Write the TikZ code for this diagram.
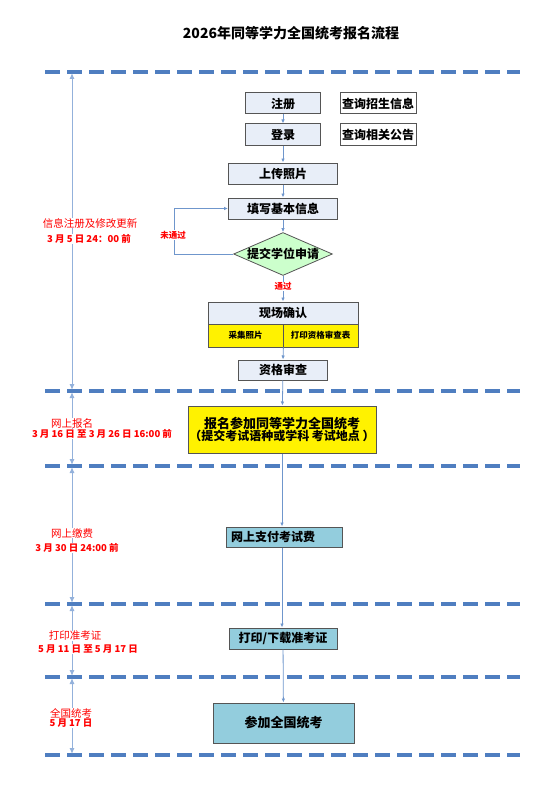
\documentclass[tikz,border=0pt]{standalone}
\usepackage{fontspec}
\setmainfont{Noto Sans CJK SC}
\usetikzlibrary{shapes.geometric,arrows.meta}
\definecolor{boxfill}{HTML}{E8EEF8}
\definecolor{bordergray}{HTML}{555555}
\definecolor{tealfill}{HTML}{93CDDD}
\definecolor{diafill}{HTML}{CCFFCC}
\definecolor{dashblue}{HTML}{4F7EC0}
\definecolor{connblue}{HTML}{6F96CC}
\definecolor{leftblue}{HTML}{93B1DB}
\definecolor{labred}{HTML}{FF0000}
\begin{document}
\begin{tikzpicture}[x=1pt,y=-1pt,
  box/.style={draw=bordergray, line width=1pt, fill=boxfill, inner sep=0pt, minimum height=21pt, font=\fontsize{12}{14}\selectfont\bfseries},
  wbox/.style={box, fill=white},
  ybox/.style={draw=bordergray, line width=0.8pt, fill=yellow, inner sep=0pt, font=\fontsize{8.5}{10}\selectfont\bfseries},
  tbox/.style={box, fill=tealfill},
  dia/.style={diamond, draw=bordergray, line width=0.8pt, fill=diafill, inner sep=0pt, shape aspect=2.3, minimum width=96pt, minimum height=42pt, font=\fontsize{12}{14}\selectfont\bfseries},
  conn/.style={draw=connblue, line width=0.8pt, -{Latex[length=4pt,width=3.5pt]}},
  larrow/.style={draw=leftblue, line width=1pt, {Latex[length=6pt,width=5pt]}-{Latex[length=6pt,width=5pt]}, shorten <=1pt, shorten >=1pt},
  dashln/.style={draw=dashblue, line width=3.2pt, dash pattern=on 15pt off 7pt},
  redlab/.style={text=labred, fill=white, inner sep=0.5pt, font=\fontsize{10.5}{12}\selectfont},
  reddate/.style={text=labred, fill=white, inner sep=0.5pt, font=\fontsize{9.5}{11}\selectfont\bfseries},
  smallred/.style={text=labred, fill=white, inner sep=0.5pt, font=\fontsize{8.5}{10}\selectfont\bfseries}
]
\useasboundingbox (0,0) rectangle (550,789);

% title
\node[font=\fontsize{14}{17}\selectfont\bfseries] (title) at (291,33) {2026年同等学力全国统考报名流程};

% dashed separators
\foreach \yy/\nm in {72/1,391/2,466/3,604/4,677/5,755/6}{
  \coordinate (dA\nm) at (45,\yy);
  \coordinate (dB\nm) at (520,\yy);
  \coordinate (v\nm) at (72,\yy);
}
\foreach \nm in {1,...,6}{ \draw[dashln] (dA\nm) -- (dB\nm); }

% left arrows
\draw[larrow] (v1) -- (v2);
\draw[larrow] (v2) -- (v3);
\draw[larrow] (v3) -- (v4);
\draw[larrow] (v4) -- (v5);
\draw[larrow] (v5) -- (v6);

% left labels
\node[redlab] (l1a) at (90,223) {信息注册及修改更新};
\node[reddate] (l1b) at (89,239) {3 月 5 日 24：00 前};
\node[redlab] (l2a) at (72,423) {网上报名};
\node[reddate] (l2b) at (102,434) {3 月 16 日 至 3 月 26 日 16:00 前};
\node[redlab] (l3a) at (72,533) {网上缴费};
\node[reddate] (l3b) at (77,548) {3 月 30 日 24:00 前};
\node[redlab] (l4a) at (75,636) {打印准考证};
\node[reddate] (l4b) at (88,649) {5 月 11 日 至 5 月 17 日};
\node[redlab] (l5a) at (71,713) {全国统考};
\node[reddate] (l5b) at (71,723) {5 月 17 日};

% flow boxes
\node[box, minimum width=75pt] (zc) at (283,103.5) {注册};
\node[wbox, minimum width=76pt] (cx1) at (378,103.5) {查询招生信息};
\node[box, minimum width=75pt] (dl) at (283,134.5) {登录};
\node[wbox, minimum width=76pt] (cx2) at (378,134.5) {查询相关公告};
\node[box, minimum width=109pt] (sc) at (283,173.5) {上传照片};
\node[box, minimum width=109pt] (tx) at (283,208.5) {填写基本信息};
\node[dia] (tj) at (283,254) {提交学位申请};
\node[box, minimum width=150pt, minimum height=22pt] (xc) at (283,313) {现场确认};
\node[ybox, minimum width=75pt, minimum height=23pt] (cj) at (245.5,335.5) {采集照片};
\node[ybox, minimum width=75pt, minimum height=23pt] (dy) at (320.5,335.5) {打印资格审查表};
\node[box, minimum width=89pt, minimum height=20pt] (zg) at (283,370) {资格审查};
\node[draw=bordergray, line width=1pt, fill=yellow, inner sep=0pt, minimum width=188pt, minimum height=47pt, align=center, font=\bfseries] (bm) at (282,429.5)
  {{\fontsize{13}{18}\selectfont 报名参加同等学力全国统考}\\{\fontsize{12}{16}\selectfont （提交考试语种或学科 考试地点 ）}};
\node[tbox, minimum width=116pt, minimum height=20pt, text width=106pt, align=left] (zf) at (284,537) {网上支付考试费};
\node[tbox, minimum width=108pt, minimum height=21pt] (dz) at (283,638.5) {打印/下载准考证};
\node[tbox, minimum width=141pt, minimum height=40pt, font=\fontsize{13}{15}\selectfont\bfseries] (ks) at (283.5,723) {参加全国统考};

% connectors
\draw[conn] (zc) -- (dl);
\draw[conn] (dl) -- (sc);
\draw[conn] (sc) -- (tx);
\draw[conn] (tx) -- (tj);
\draw[conn] (tj) -- node[smallred, pos=0.42] (tg) {通过} (xc);
\coordinate (lp) at (174,254);
\draw[conn] (tj.west) -- (lp) |- (tx.west);
\node[smallred] (wtg) at (173,235) {未通过};
\draw[conn] (cj.south east) -- (zg.north);
\draw[conn] (zg) -- (bm);
\draw[conn] (bm) -- (zf.north -| bm.south);
\draw[conn] (zf.south -| bm.south) -- (dz.north -| bm.south);
\draw[conn] (dz) -- (ks);
\end{tikzpicture}
\end{document}
